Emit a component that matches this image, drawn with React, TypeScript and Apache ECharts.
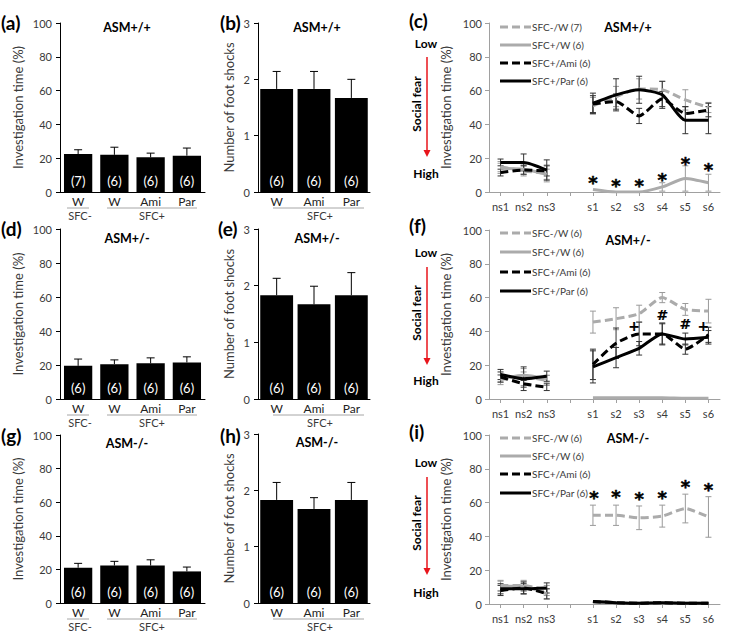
import React, { useEffect, useRef } from "react";
import * as echarts from "echarts";

const FONT = "Lato, 'Noto Sans', sans-serif";

// ---------------- Data ----------------
const barGroups4 = ["W", "W", "Ami", "Par"];
const barGroups3 = ["W", "Ami", "Par"];
const sessionCats = ["ns1", "ns2", "ns3", "", "s1", "s2", "s3", "s4", "s5", "s6"];
const lineNames = ["SFC-/W", "SFC+/W", "SFC+/Ami", "SFC+/Par"];

// Investigation time (%) bar panels
const invWT = [22.5, 22, 20.5, 21.5];
const invWTErr = [2.5, 4.5, 2.5, 4.5];
const invHet = [19.5, 20.5, 21, 21.5];
const invHetErr = [4, 2.5, 3.2, 3.3];
const invKO = [21, 22.3, 22.3, 18.8];
const invKOErr = [2.6, 2.5, 3.4, 2.6];
const nWT4 = ["(7)", "(6)", "(6)", "(6)"];
const n6x4 = ["(6)", "(6)", "(6)", "(6)"];
const n6x3 = ["(6)", "(6)", "(6)"];

// Number of foot shocks
const shocksWT = [1.83, 1.83, 1.67];
const shocksWTErr = [0.31, 0.31, 0.33];
const shocksHet = [1.83, 1.67, 1.83];
const shocksHetErr = [0.3, 0.32, 0.4];
const shocksKO = [1.83, 1.67, 1.83];
const shocksKOErr = [0.31, 0.2, 0.31];

// Social fear time courses (null = gap)
const cSfcmW = [15, 12.5, 11, null, 51, 56.5, 61, 60.5, 54.5, 50];
const cSfcpW = [14, 13.5, 10.5, null, 1.5, 0, 0, 3, 8, 5.5];
const cAmi = [11.5, 13, 12.5, null, 52, 53.5, 45, 55, 46.5, 48.5];
const cPar = [17.5, 17.5, 13, null, 52.5, 57.5, 60.5, 57.5, 42.5, 42.5];
const cSfcmWErr = [3, 3, 5, null, 5, 6, 6, 5, 6, 3];
const cSfcpWErr = [3, 3, 3, null, 0, 0, 0, 2.5, 7.5, 5];
const cAmiErr = [2, 2.5, 3, null, 5, 4.5, 4.5, 4.5, 4, 4];
const cParErr = [2, 5, 6, null, 6, 9.5, 8, 8, 8, 8];
const cMarkCats = [4, 5, 6, 7, 8, 9];
const cMarkY = [8, 6, 6, 10, 19, 15.5];
const cMarkText = ["*", "*", "*", "*", "*", "*"];
const cLegend = ["SFC-/W (7)", "SFC+/W (6)", "SFC+/Ami (6)", "SFC+/Par (6)"];

const fSfcmW = [11.5, 13, 11, null, 45.5, 47.5, 50.5, 60, 53, 52];
const fSfcpW = [12, 14, 12, null, 0.8, 0.8, 0.8, 0.8, 0.5, 0.5];
const fAmi = [13, 9, 7, null, 20.5, 33, 38.5, 38.5, 29.5, 38];
const fPar = [14.5, 12, 13.5, null, 19, 24.5, 30, 38.5, 35.5, 36.5];
const fSfcmWErr = [3, 5, 3, null, 6.5, 6.5, 5, 3, 3.5, 7];
const fSfcpWErr = [2, 2, 2, null, 0, 0, 0, 0, 0, 0];
const fAmiErr = [3, 2, 2, null, 9, 9, 7, 6.5, 3, 4.5];
const fParErr = [3, 7, 3, null, 9.5, 6, 4, 6, 3.5, 4];
const fMarkCats = [6, 7, 8, 9];
const fMarkY = [43, 50, 44.5, 43];
const fMarkText = ["+", "#", "#", "+"];
const fLegend = ["SFC-/W (6)", "SFC+/W (6)", "SFC+/Ami (6)", "SFC+/Par (6)"];

const iSfcmW = [11, 11, 8, null, 52.5, 52.5, 51, 52, 56.5, 51.5];
const iSfcpW = [10.5, 10.5, 6, null, 1, 0.5, 0.5, 0.5, 0.5, 0.5];
const iAmi = [8, 9.5, 6, null, 1.5, 0.8, 0.5, 0.8, 0.5, 0.5];
const iPar = [9, 9, 9.5, null, 1.5, 0.8, 0.5, 0.8, 0.5, 0.5];
const iSfcmWErr = [3, 3, 3, null, 6, 6, 7, 6.5, 8.5, 12];
const iSfcpWErr = [3, 3, 3, null, 0, 0, 0, 0, 0, 0];
const iAmiErr = [3, 3.5, 3, null, 0, 0, 0, 0, 0, 0];
const iParErr = [3, 3, 3, null, 0, 0, 0, 0, 0, 0];
const iMarkCats = [4, 5, 6, 7, 8, 9];
const iMarkY = [65.5, 66, 64.5, 65.5, 72, 70];
const iMarkText = ["*", "*", "*", "*", "*", "*"];
const iLegend = ["SFC-/W (6)", "SFC+/W (6)", "SFC+/Ami (6)", "SFC+/Par (6)"];

// ---------------- Builders ----------------
type Rect = { left: number; top: number; width: number; height: number };

const GRAY = "#ababab";
const TXT = "#3a3a3a";

function buildOption() {
  const grids: any[] = [];
  const xAxes: any[] = [];
  const yAxes: any[] = [];
  const series: any[] = [];
  const graphic: any[] = [];

  const text = (t: string, x: number, y: number, o: any = {}) => {
    graphic.push({
      type: "text",
      x,
      y,
      rotation: o.rotation || 0,
      z: 50,
      style: {
        text: t,
        fill: o.fill || "#000",
        fontSize: o.fontSize || 11,
        fontWeight: o.bold ? "bold" : "normal",
        fontFamily: FONT,
        align: o.align || "center",
        verticalAlign: "middle",
      },
    });
  };
  const hline = (x1: number, x2: number, y: number, stroke: string, lw = 1, dash?: number[]) => {
    graphic.push({
      type: "line",
      z: 50,
      shape: { x1, y1: y, x2, y2: y },
      style: { stroke, lineWidth: lw, lineDash: dash || null },
    });
  };

  const addBarPanel = (p: {
    rect: Rect;
    cats: string[];
    vals: number[];
    errs: number[];
    counts: string[];
    max: number;
    interval: number;
    yName: string;
    nameGap: number;
    gap: string;
  }) => {
    const k = grids.length;
    grids.push({ ...p.rect });
    xAxes.push({
      gridIndex: k,
      type: "category",
      data: p.cats,
      axisLine: { lineStyle: { color: "#000", width: 1 } },
      axisTick: { show: false },
      axisLabel: { color: "#222", fontSize: 12, fontFamily: FONT, margin: 3, interval: 0 },
      splitLine: { show: false },
    });
    yAxes.push({
      gridIndex: k,
      type: "value",
      min: 0,
      max: p.max,
      interval: p.interval,
      name: p.yName,
      nameLocation: "middle",
      nameGap: p.nameGap,
      nameTextStyle: { color: TXT, fontSize: 13, fontFamily: FONT },
      axisLine: { show: true, lineStyle: { color: "#000", width: 1 } },
      axisTick: { show: true, length: 4, lineStyle: { color: "#000" } },
      axisLabel: { color: TXT, fontSize: 11, fontFamily: FONT, margin: 8 },
      splitLine: { show: false },
    });
    series.push({
      type: "bar",
      xAxisIndex: k,
      yAxisIndex: k,
      data: p.vals,
      barCategoryGap: p.gap,
      itemStyle: { color: "#000" },
      silent: true,
      label: {
        show: true,
        position: "insideBottom",
        distance: 5,
        formatter: (q: any) => p.counts[q.dataIndex],
        color: "#fff",
        fontSize: 13,
        fontFamily: FONT,
      },
    });
    series.push({
      type: "custom",
      xAxisIndex: k,
      yAxisIndex: k,
      silent: true,
      z: 5,
      data: p.vals.map((v, i) => [i, v, p.errs[i]]),
      encode: { x: 0, y: 1 },
      renderItem: (_params: any, api: any) => {
        const i = api.value(0);
        const v = api.value(1);
        const e = api.value(2);
        const p0 = api.coord([i, v]);
        const p1 = api.coord([i, v + e]);
        const hw = 4;
        return {
          type: "group",
          children: [
            { type: "line", shape: { x1: p0[0], y1: p0[1], x2: p1[0], y2: p1[1] }, style: { stroke: "#000", lineWidth: 1 } },
            { type: "line", shape: { x1: p1[0] - hw, y1: p1[1], x2: p1[0] + hw, y2: p1[1] }, style: { stroke: "#000", lineWidth: 1 } },
          ],
        };
      },
    });
  };

  const lineStyles = [
    { color: GRAY, type: [8, 4], err: "#9a9a9a" },
    { color: GRAY, type: "solid", err: "#9a9a9a" },
    { color: "#000", type: [8, 4], err: "#333" },
    { color: "#000", type: "solid", err: "#333" },
  ];

  const addLinePanel = (p: {
    rect: Rect;
    data: (number | null)[][];
    errs: (number | null)[][];
    markCats: number[];
    markY: number[];
    markText: string[];
    markDx: number[];
    legend: string[];
    legendY: number[];
  }) => {
    const k = grids.length;
    grids.push({ ...p.rect });
    xAxes.push({
      gridIndex: k,
      type: "category",
      data: sessionCats,
      axisLine: { lineStyle: { color: "#a0a0a0", width: 1 } },
      axisTick: { show: true, alignWithLabel: true, interval: 0, length: 4, lineStyle: { color: "#a0a0a0" } },
      axisLabel: { color: TXT, fontSize: 11, fontFamily: FONT, margin: 9, interval: 0 },
      splitLine: { show: false },
    });
    yAxes.push({
      gridIndex: k,
      type: "value",
      min: 0,
      max: 100,
      interval: 20,
      name: "Investigation time (%)",
      nameLocation: "middle",
      nameGap: 37,
      nameTextStyle: { color: TXT, fontSize: 13, fontFamily: FONT },
      axisLine: { show: true, lineStyle: { color: "#a0a0a0", width: 1 } },
      axisTick: { show: true, length: 4, lineStyle: { color: "#a0a0a0" } },
      axisLabel: { color: TXT, fontSize: 11, fontFamily: FONT, margin: 7 },
      splitLine: { show: false },
    });
    p.data.forEach((d, j) => {
      const st = lineStyles[j];
      series.push({
        type: "custom",
        xAxisIndex: k,
        yAxisIndex: k,
        silent: true,
        z: 1,
        data: d
          .map((v, i) => [i, v, p.errs[j][i]])
          .filter((r) => r[1] !== null),
        encode: { x: 0, y: 1 },
        renderItem: (_params: any, api: any) => {
          const i = api.value(0);
          const v = api.value(1);
          const e = api.value(2);
          if (!e) return { type: "group", children: [] };
          const t = api.coord([i, v + e]);
          const b = api.coord([i, Math.max(0, v - e)]);
          const hw = 3;
          const s = { stroke: st.err, lineWidth: 1 };
          return {
            type: "group",
            children: [
              { type: "line", shape: { x1: t[0], y1: t[1], x2: b[0], y2: b[1] }, style: s },
              { type: "line", shape: { x1: t[0] - hw, y1: t[1], x2: t[0] + hw, y2: t[1] }, style: s },
              { type: "line", shape: { x1: b[0] - hw, y1: b[1], x2: b[0] + hw, y2: b[1] }, style: s },
            ],
          };
        },
      });
      series.push({
        type: "line",
        name: lineNames[j],
        xAxisIndex: k,
        yAxisIndex: k,
        data: d,
        symbol: "none",
        showSymbol: false,
        smooth: 0.2,
        connectNulls: false,
        silent: true,
        z: 2 + j,
        lineStyle: { color: st.color, width: 3, type: st.type },
      });
    });
    // significance marks
    series.push({
      type: "custom",
      xAxisIndex: k,
      yAxisIndex: k,
      silent: true,
      z: 10,
      data: p.markCats.map((c, i) => [c, p.markY[i], i]),
      encode: { x: 0, y: 1 },
      renderItem: (_params: any, api: any) => {
        const idx = api.value(2);
        const pt = api.coord([api.value(0), api.value(1)]);
        const t = p.markText[idx];
        const star = t === "*";
        return {
          type: "text",
          x: pt[0] + (p.markDx[idx] || 0),
          y: pt[1] + (star ? 4 : 0),
          style: {
            text: t,
            fill: "#000",
            stroke: "#000",
            lineWidth: star ? 0.5 : 0.2,
            fontSize: star ? 18 : 14,
            fontWeight: "bold",
            fontFamily: "'DejaVu Sans', sans-serif",
            align: "center",
            verticalAlign: "middle",
          },
        };
      },
    });
    // legend
    const lx1 = p.rect.left + 11;
    const lx2 = p.rect.left + 42;
    p.legend.forEach((t, j) => {
      const st = lineStyles[j];
      hline(lx1, lx2, p.legendY[j], st.color, 3, st.type === "solid" ? undefined : (st.type as number[]));
      text(t, lx2 + 1, p.legendY[j], { align: "left", fontSize: 10, fill: TXT });
    });
  };

  // rects
  const rA = { left: 60, top: 23, width: 145, height: 169 };
  const rD = { left: 60, top: 229, width: 145, height: 170 };
  const rG = { left: 60, top: 435, width: 145, height: 168 };
  const rB = { left: 258, top: 23, width: 112, height: 169 };
  const rE = { left: 258, top: 229, width: 112, height: 170 };
  const rH = { left: 258, top: 434, width: 112, height: 169 };
  const rC = { left: 489, top: 23, width: 231, height: 169 };
  const rF = { left: 489, top: 230, width: 231, height: 169 };
  const rI = { left: 489, top: 435, width: 231, height: 169 };

  const inv = "Investigation time (%)";
  const shk = "Number of foot shocks";
  addBarPanel({ rect: rA, cats: barGroups4, vals: invWT, errs: invWTErr, counts: nWT4, max: 100, interval: 20, yName: inv, nameGap: 36, gap: "22%" });
  addBarPanel({ rect: rD, cats: barGroups4, vals: invHet, errs: invHetErr, counts: n6x4, max: 100, interval: 20, yName: inv, nameGap: 36, gap: "22%" });
  addBarPanel({ rect: rG, cats: barGroups4, vals: invKO, errs: invKOErr, counts: n6x4, max: 100, interval: 20, yName: inv, nameGap: 36, gap: "22%" });
  addBarPanel({ rect: rB, cats: barGroups3, vals: shocksWT, errs: shocksWTErr, counts: n6x3, max: 3, interval: 1, yName: shk, nameGap: 23, gap: "12%" });
  addBarPanel({ rect: rE, cats: barGroups3, vals: shocksHet, errs: shocksHetErr, counts: n6x3, max: 3, interval: 1, yName: shk, nameGap: 23, gap: "12%" });
  addBarPanel({ rect: rH, cats: barGroups3, vals: shocksKO, errs: shocksKOErr, counts: n6x3, max: 3, interval: 1, yName: shk, nameGap: 23, gap: "12%" });

  addLinePanel({
    rect: rC,
    data: [cSfcmW, cSfcpW, cAmi, cPar],
    errs: [cSfcmWErr, cSfcpWErr, cAmiErr, cParErr],
    markCats: cMarkCats, markY: cMarkY, markText: cMarkText, markDx: [0, 0, 0, 0, 0, 0],
    legend: cLegend, legendY: [27, 45, 63, 81],
  });
  addLinePanel({
    rect: rF,
    data: [fSfcmW, fSfcpW, fAmi, fPar],
    errs: [fSfcmWErr, fSfcpWErr, fAmiErr, fParErr],
    markCats: fMarkCats, markY: fMarkY, markText: fMarkText, markDx: [-5, 0, 0, -5],
    legend: fLegend, legendY: [233, 252, 272, 291],
  });
  addLinePanel({
    rect: rI,
    data: [iSfcmW, iSfcpW, iAmi, iPar],
    errs: [iSfcmWErr, iSfcpWErr, iAmiErr, iParErr],
    markCats: iMarkCats, markY: iMarkY, markText: iMarkText, markDx: [1, 0, 0, 0, 0, 0],
    legend: iLegend, legendY: [438, 456, 474, 493],
  });

  // panel letters
  const letters: [string, number, number][] = [
    ["(a)", 1, 22], ["(b)", 220, 22], ["(c)", 409, 20],
    ["(d)", 1, 228], ["(e)", 218, 228], ["(f)", 409, 225],
    ["(g)", 1, 435], ["(h)", 220, 435], ["(i)", 409, 431],
  ];
  letters.forEach(([t, x, y]) => text(t, x, y, { align: "left", bold: true, fontSize: 19 }));

  // panel titles
  const titles: [string, number, number][] = [
    ["ASM+/+", 127, 27], ["ASM+/+", 317, 27], ["ASM+/+", 628, 27],
    ["ASM+/-", 127, 238], ["ASM+/-", 317, 238], ["ASM+/-", 628, 240],
    ["ASM-/-", 127, 443], ["ASM-/-", 317, 442], ["ASM-/-", 628, 438],
  ];
  titles.forEach(([t, x, y]) => text(t, x, y, { bold: true, fontSize: 12.5 }));

  // group labels under bars
  [rA, rD, rG].forEach((r) => {
    const ax = r.top + r.height;
    hline(67, 89, ax + 16, "#a6a6a6", 1);
    hline(107, 197, ax + 16, "#a6a6a6", 1);
    text("SFC-", 80, ax + 23, { fontSize: 11, fill: TXT });
    text("SFC+", 152, ax + 23, { fontSize: 11, fill: TXT });
  });
  [rB, rE, rH].forEach((r) => {
    const ax = r.top + r.height;
    hline(273, 364, ax + 16, "#a6a6a6", 1);
    text("SFC+", 320, ax + 23, { fontSize: 11, fill: TXT });
  });

  // social fear annotation
  [
    { low: 43, a1: 57, a2: 157, mid: 104, high: 173 },
    { low: 252, a1: 267, a2: 365, mid: 313, high: 380 },
    { low: 462, a1: 477, a2: 575, mid: 523, high: 592 },
  ].forEach((s) => {
    text("Low", 426, s.low, { bold: true, fontSize: 12 });
    text("High", 426, s.high, { bold: true, fontSize: 12 });
    text("Social fear", 416, s.mid, { bold: true, fontSize: 12, rotation: Math.PI / 2 });
    graphic.push({
      type: "line",
      z: 50,
      shape: { x1: 427, y1: s.a1, x2: 427, y2: s.a2 - 6 },
      style: { stroke: "#e8141b", lineWidth: 1.5 },
    });
    graphic.push({
      type: "polygon",
      z: 50,
      shape: { points: [[423.5, s.a2 - 7], [430.5, s.a2 - 7], [427, s.a2]] },
      style: { fill: "#e8141b" },
    });
  });

  return {
    animation: false,
    backgroundColor: "#ffffff",
    textStyle: { fontFamily: FONT },
    grid: grids,
    xAxis: xAxes,
    yAxis: yAxes,
    series,
    graphic,
  };
}

export default function App() {
  const ref = useRef<HTMLDivElement>(null);
  useEffect(() => {
    if (!ref.current) return;
    const chart = echarts.init(ref.current, undefined, { renderer: "svg" });
    chart.setOption(buildOption() as any);
    return () => chart.dispose();
  }, []);
  return (
    <div
      ref={ref}
      style={{ position: "absolute", left: 0, top: 0, width: 729, height: 637, background: "#fff" }}
    />
  );
}
